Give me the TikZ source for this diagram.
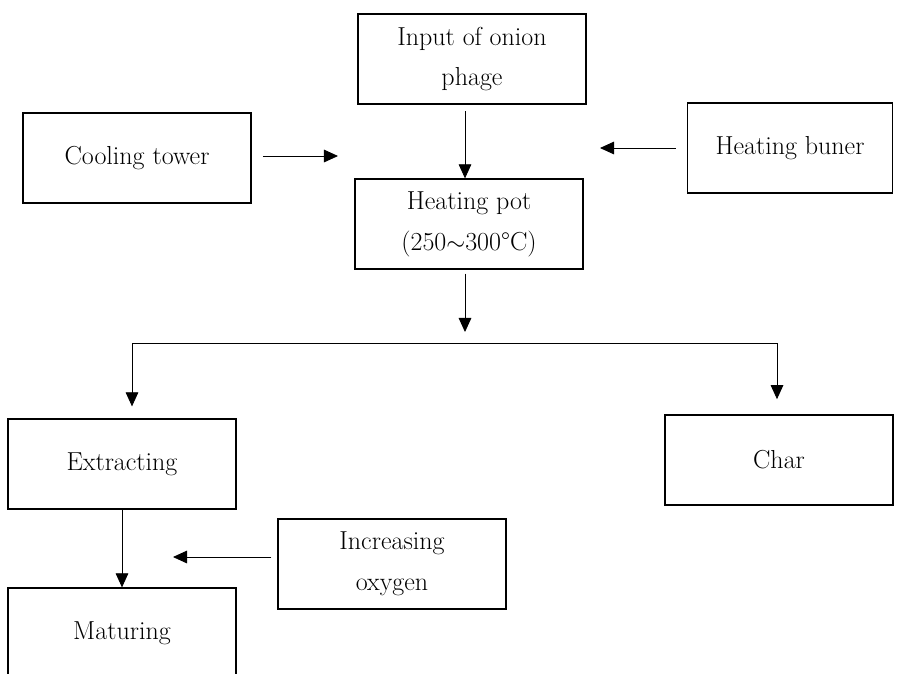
\documentclass[tikz,border=0pt]{standalone}
\usepackage{fontspec}
\usetikzlibrary{arrows.meta}
\begin{document}
\begin{tikzpicture}[x = 0.025cm, y = -0.025cm,
  box/.style = {draw, line width = 0.9pt, minimum width = 5.7cm, minimum height = 2.25cm,
    align = center, font = \fontsize{18.5}{29}\selectfont},
  arr/.style = {line width = 0.6pt, -{Triangle[width = 9pt, length = 10pt]}}]
\useasboundingbox (0,0) rectangle (909,673);

%boxes of the process

\node [box] (input) at (472,59) {Input of onion\\phage};
\node [box] (cool) at (137,158) {Cooling tower};
\node [box, minimum width = 5.125cm] (burner) at (790,148) {Heating buner};
\node [box] (pot) at (469,224) {Heating pot\\(250{$\sim$}300°C)};
\node [box] (extract) at (122,464) {Extracting};
\node [box] (char) at (779,460) {Char};
\node [box] (oxygen) at (392,564) {Increasing\\oxygen};
\node [box] (mature) at (122,633) {Maturing};

%free ends and the branch line

\coordinate (inend) at (465,111); %top of arrow into heating pot
\coordinate (coolend) at (338,156); %arrow from cooling tower
\coordinate (burnend) at (600,148); %arrow from heating buner
\coordinate (potend) at (465,332); %arrow below heating pot
\coordinate (busL) at (132,343); %left end of branch
\coordinate (busR) at (777,343); %right end of branch
\coordinate (oxyend) at (173,557); %arrow from oxygen

%arrows

\draw [arr] (inend) -- (inend |- pot.north);
\draw [arr, shorten <= 0.28cm] (cool.east |- coolend) -- (coolend);
\draw [arr, shorten <= 0.28cm] (burner.west |- burnend) -- (burnend);
\draw [arr, shorten <= 0.1cm] (pot.south -| potend) -- (potend);
\draw [line width = 0.6pt] (busL) -- (busR);
\draw [arr, shorten >= 0.3cm] (busL) -- (busL |- extract.north);
\draw [arr, shorten >= 0.38cm] (busR) -- (busR |- char.north);
\draw [arr] (extract.south) -- (mature.north);
\draw [arr, shorten <= 0.15cm] (oxygen.west |- oxyend) -- (oxyend);
\end{tikzpicture}
\end{document}
